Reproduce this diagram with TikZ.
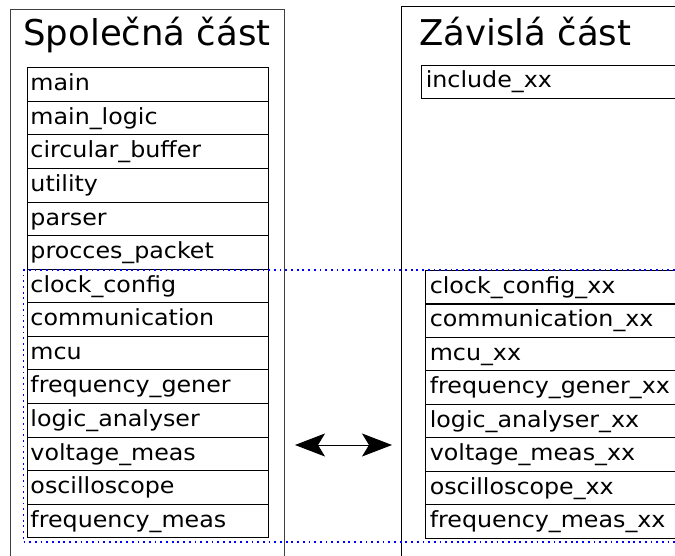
\documentclass[tikz,border=0pt]{standalone}
\usepackage{fontspec}
\setmainfont{DejaVu Sans}
\newfontfamily\rowfont[FakeStretch=1.07]{DejaVu Sans}
\usetikzlibrary{arrows.meta}
\begin{document}
\begin{tikzpicture}[x=1pt,y=-1pt,
  outer/.style={draw=black!75, line width=1.2pt, anchor=north west, inner sep=0pt},
  title/.style={inner sep=0pt, font=\fontsize{35.5}{40}\selectfont},
  rowbox/.style={draw=black, line width=1pt, anchor=north west, inner xsep=3pt, inner ysep=0pt,
    text height=23pt, text depth=10.5pt, align=left, font=\rowfont\fontsize{22.2}{26}\selectfont},
  leftrow/.style={rowbox, text width=235pt},
  rightrow/.style={rowbox, inner xsep=4pt, text width=280pt},
  dotbox/.style={draw=blue, line width=1.7pt, dash pattern=on 1.8pt off 3.9pt, anchor=north west, inner sep=0pt},
  biarrow/.style={line width=0.9pt, >={Stealth[length=30pt,width=23pt,inset=7pt]}, <->}
]
\useasboundingbox (0,0) rectangle (675,556);
\begin{scope}
\clip (0,0) rectangle (675,556);
% outer boxes
\node[outer, minimum width=274pt, minimum height=600pt] (common) at (10,9) {};
\node[outer, draw=black, line width=1.1pt, minimum width=320pt, minimum height=600pt] (dependent) at (401.3,6) {};
% titles
\node[title, anchor=base] (t1) at (147,46) {Společná část};
\node[title, anchor=base west] (t2) at (419,46) {Závislá část};
% left rows
\foreach \txt [count=\i from 0] in {main,main\_logic,circular\_buffer,utility,parser,procces\_packet,clock\_config,communication,mcu,frequency\_gener,logic\_analyser,voltage\_meas,oscilloscope,frequency\_meas}
  \node[leftrow] (L\i) at (27,67.3+\i*33.57) {\txt};
% right rows
\node[rightrow, text height=22pt, text depth=11pt] (inc) at (421.3,65.3) {include\_xx};
\foreach \txt [count=\i from 0] in {clock\_config\_xx,communication\_xx,mcu\_xx,frequency\_gener\_xx,logic\_analyser\_xx,voltage\_meas\_xx,oscilloscope\_xx,frequency\_meas\_xx}
  \node[rightrow] (R\i) at (425.3,270+\i*33.46) {\txt};
% dotted group
\node[dotbox, minimum width=700pt, minimum height=271.5pt] (grp) at (22.7,269.5) {};
% arrow
\coordinate (al) at (295,445);
\coordinate (ar) at (392,445);
\draw[biarrow] (al) -- (ar);
\end{scope}
\end{tikzpicture}
\end{document}
